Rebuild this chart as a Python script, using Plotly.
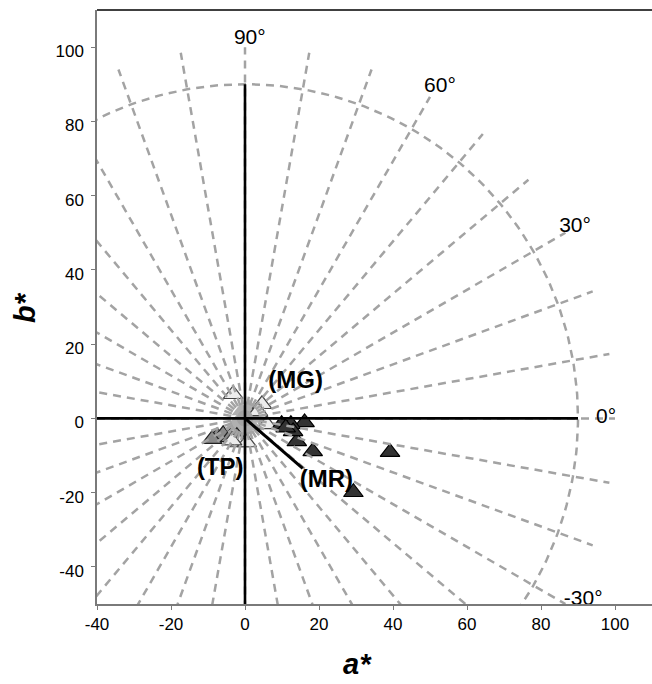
import numpy as np
import plotly.graph_objects as go

# ---- data ----
hue_angles = list(range(0, 360, 10))          # hue reference rays (deg)
ray_radius = 100
chroma_ring = 90

mr_a = [39.2, 29.3, 18.3, 14.0, 16.1, 12.4, 9.9, 13.0, 11.0]
mr_b = [-9.1, -19.9, -8.9, -6.2, -1.1, -1.6, -1.6, -3.5, -2.5]

mg_a = [-3.2, 4.6, 3.5, 5.9, -1.5, 0.5, -3.5]
mg_b = [6.5, 3.8, 1.9, -1.6, -6.5, -6.5, -6.0]

tp_a = [-7.5, -5.9, -4.0, -2.2, -8.9]
tp_b = [-4.8, -4.3, -5.1, -4.8, -5.6]

gr_a = [-1.0, 1.0, -2.0, 2.0, 0.0, -3.0, 3.0, -1.0, 1.0]
gr_b = [2.0, 3.0, -1.0, -2.0, -3.0, -2.0, 0.0, -4.0, 1.0]

mr_line_a = [0, 15.6]
mr_line_b = [0, -13.5]

deg_labels = ["90°", "60°", "30°", "0°", "-30°"]
deg_a = [1.3, 52.7, 89.2, 97.6, 91.4]
deg_b = [102.2, 89.2, 51.5, 0.3, -48.8]

grp_labels = ["(MG)", "(MR)", "(TP)"]
grp_a = [13.7, 22.0, -6.7]
grp_b = [9.7, -17.0, -13.7]

xticks = [-40, -20, 0, 20, 40, 60, 80, 100]
xtick_text = ["-40", "-20", "0", "20", "40", "60", "80", "100"]
yticks = [-40, -20, 0, 20, 40, 60, 80, 100]
ytick_text = ["-40", "-20", "0", "20", "40", "60", "80", "100"]

FONT = "Arial, Liberation Sans, sans-serif"
RAY = "#a3a3a3"

fig = go.Figure()

# markers
fig.add_trace(go.Scatter(x=gr_a, y=gr_b, mode="markers",
    marker=dict(symbol="triangle-up", size=17, color="#b0b0b0", line=dict(width=0))))
fig.add_trace(go.Scatter(x=tp_a, y=tp_b, mode="markers",
    marker=dict(symbol="triangle-up", size=17, color="#8a8a8a", line=dict(width=1.2, color="#222"))))
fig.add_trace(go.Scatter(x=mg_a, y=mg_b, mode="markers",
    marker=dict(symbol="triangle-up", size=17, color="#ececec", line=dict(width=1.2, color="#444"))))
fig.add_trace(go.Scatter(x=mr_a, y=mr_b, mode="markers",
    marker=dict(symbol="triangle-up", size=17, color="#333333", line=dict(width=1.2, color="#000"))))

# hue rays
for ang in hue_angles:
    t = np.radians(ang)
    fig.add_trace(go.Scatter(x=[0, ray_radius * np.cos(t)], y=[0, ray_radius * np.sin(t)],
        mode="lines", line=dict(color=RAY, width=2.5, dash="8px,6px"), hoverinfo="skip"))

# chroma ring arc
arc_t = np.radians(np.arange(-40, 126, 1))
fig.add_trace(go.Scatter(x=chroma_ring * np.cos(arc_t), y=chroma_ring * np.sin(arc_t),
    mode="lines", line=dict(color=RAY, width=2.5, dash="8px,6px"), hoverinfo="skip"))

# black axes lines
fig.add_trace(go.Scatter(x=[-40, chroma_ring], y=[0, 0], mode="lines",
    line=dict(color="black", width=2.6)))
fig.add_trace(go.Scatter(x=[0, 0], y=[-50, chroma_ring], mode="lines",
    line=dict(color="black", width=2.6)))
fig.add_trace(go.Scatter(x=mr_line_a, y=mr_line_b, mode="lines",
    line=dict(color="black", width=3)))

# degree labels
fig.add_trace(go.Scatter(x=deg_a, y=deg_b, mode="text", text=deg_labels,
    textfont=dict(family=FONT, size=21, color="black"), cliponaxis=False))
fig.add_trace(go.Scatter(x=grp_a, y=grp_b, mode="text", text=["<b>%s</b>" % s for s in grp_labels],
    textfont=dict(family=FONT, size=24, color="black"), cliponaxis=False))

W, H = 555.0, 594.0
fig.update_layout(
    width=652, height=684,
    margin=dict(l=97, r=0, t=10, b=80),
    paper_bgcolor="white", plot_bgcolor="white",
    showlegend=False,
    font=dict(family=FONT, size=17, color="black"),
    xaxis=dict(range=[-40, 110], tickvals=xticks, ticktext=xtick_text, showgrid=False, zeroline=False,
               showline=True, linecolor="#7a7a7a", linewidth=1.5,
               ticks="outside", ticklen=4, tickcolor="#7a7a7a",
               tickfont=dict(family=FONT, size=17)),
    yaxis=dict(range=[-50, 110], tickvals=yticks, ticktext=ytick_text, showgrid=False, zeroline=False,
               showline=True, linecolor="#7a7a7a", linewidth=1.5,
               ticks="outside", ticklen=4, tickcolor="#7a7a7a",
               tickfont=dict(family=FONT, size=17), ticklabelshift=4, ticklabelstandoff=4),
    shapes=[dict(type="line", xref="paper", yref="paper", x0=0, x1=1, y0=1, y1=1,
                 line=dict(color="black", width=1.5))],
    annotations=[
        dict(text="<b><i>a*</i></b>", xref="paper", yref="paper",
             x=(357 - 97) / W, y=(604 - 664) / H, xanchor="center", yanchor="middle",
             showarrow=False, font=dict(family=FONT, size=29)),
        dict(text="<b><i>b*</i></b>", xref="paper", yref="paper",
             x=(25 - 97) / W, y=(604 - 308) / H, xanchor="center", yanchor="middle",
             showarrow=False, font=dict(family=FONT, size=29), textangle=-90),
    ],
)

fig.write_html("out.html")
